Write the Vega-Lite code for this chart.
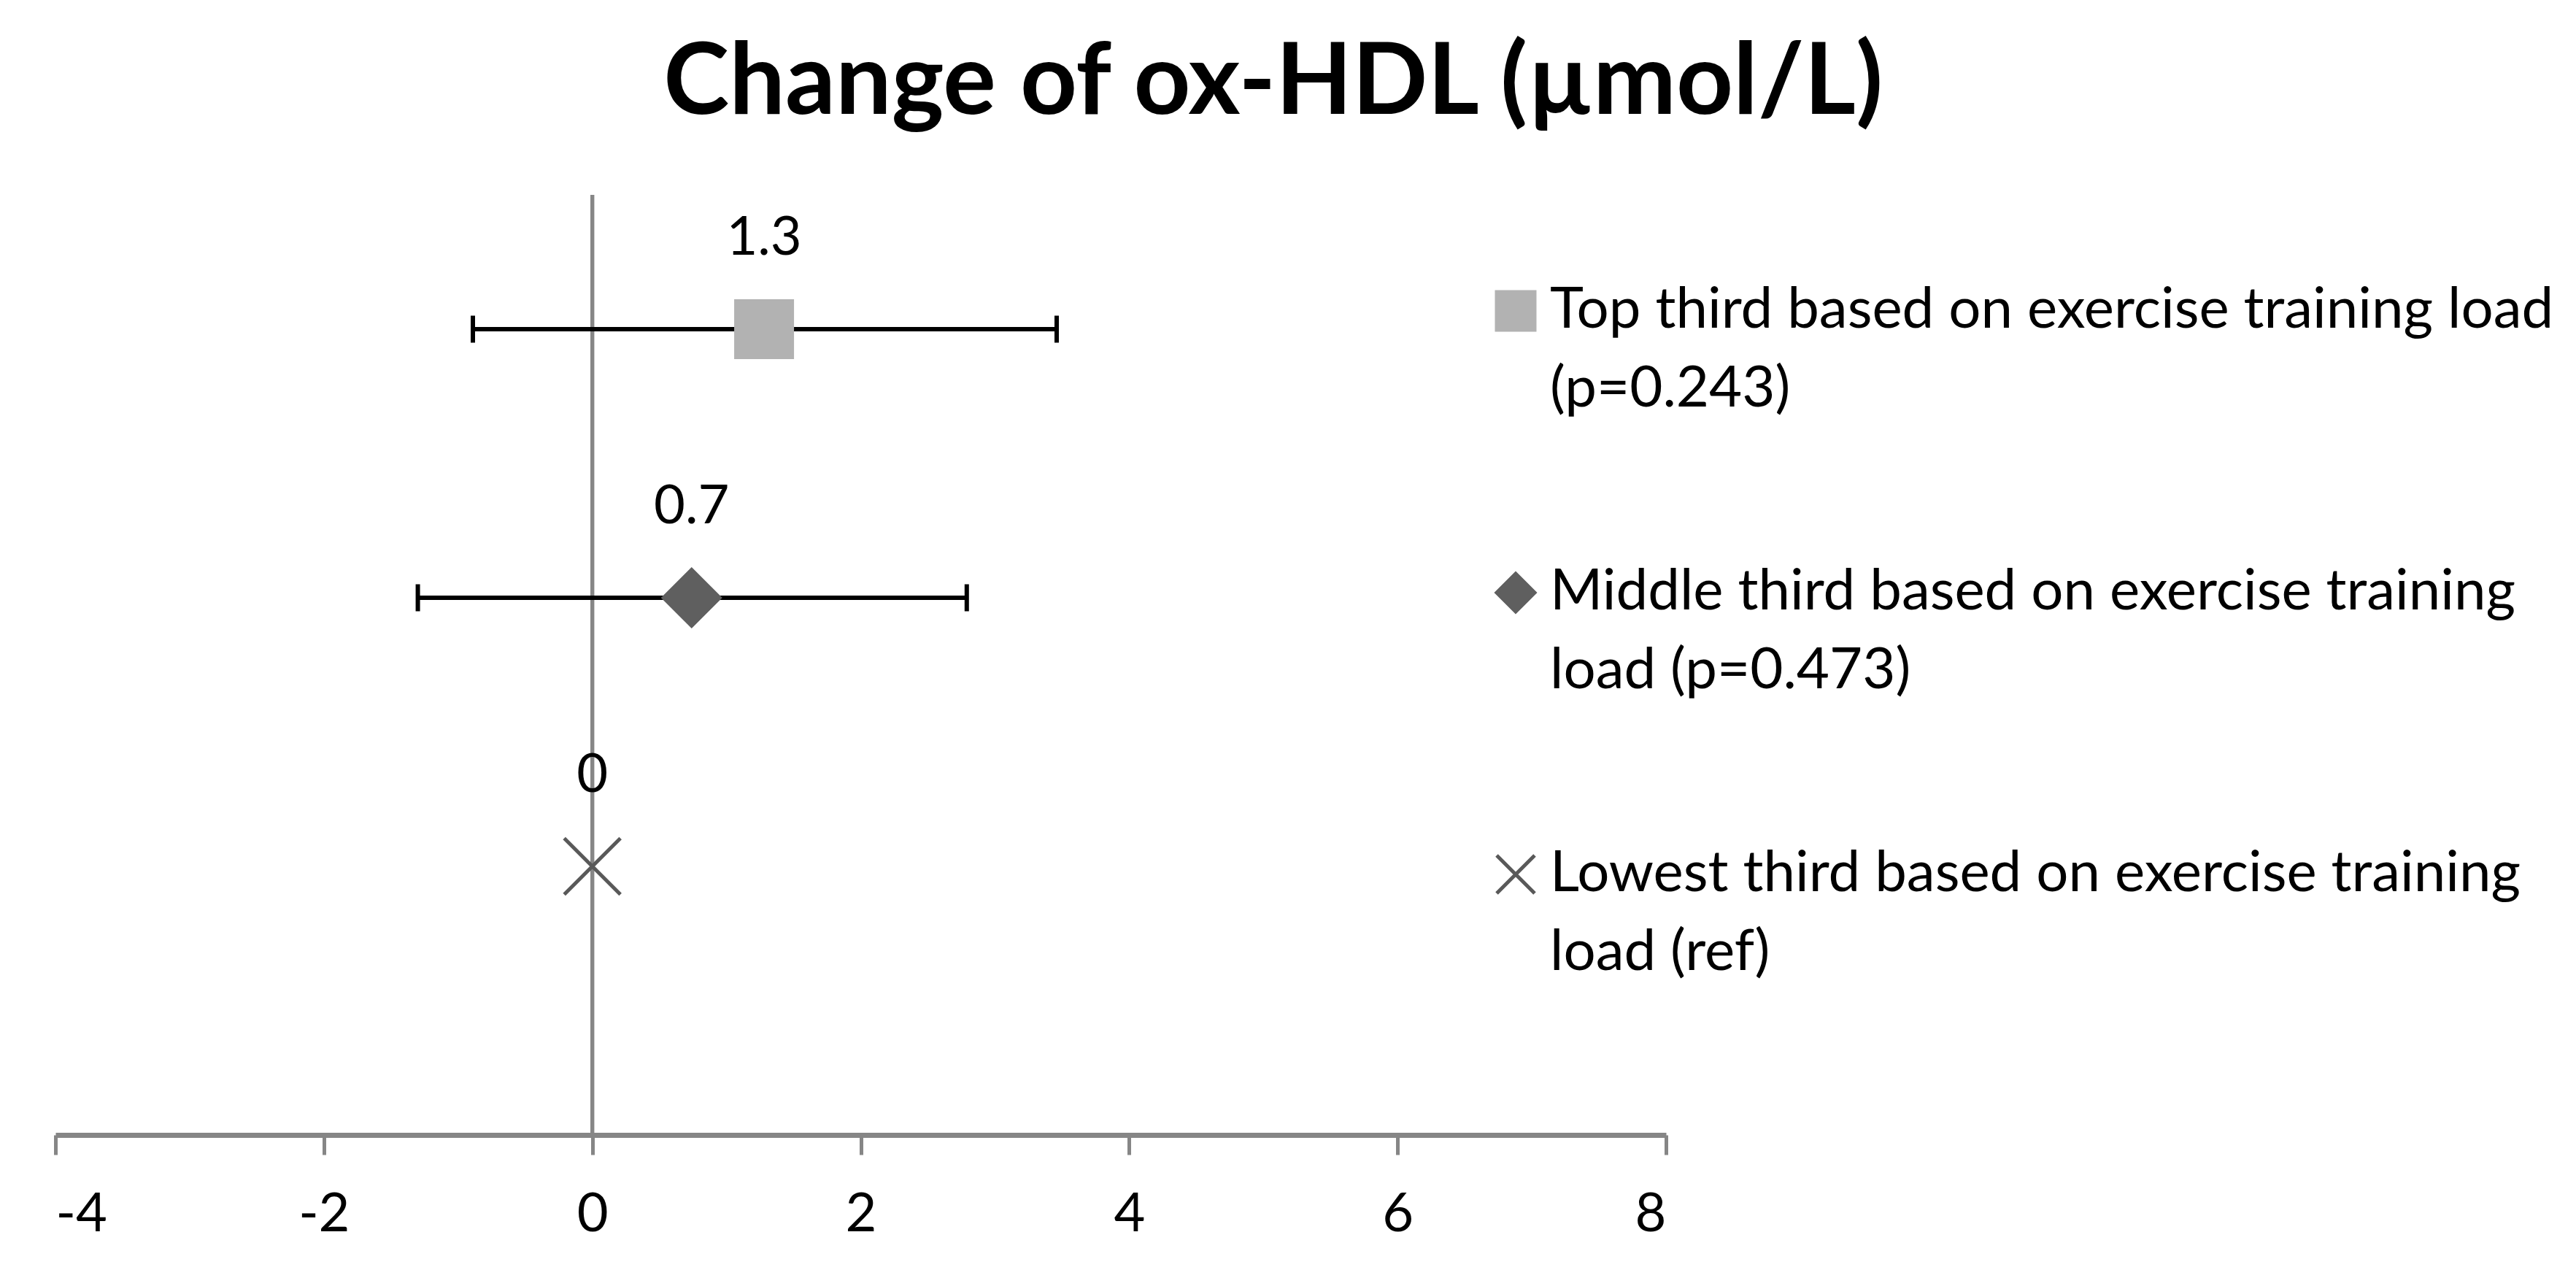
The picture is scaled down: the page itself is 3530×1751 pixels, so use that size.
{
  "$schema": "https://vega.github.io/schema/vega-lite/v6.json",
  "width": 2207,
  "height": 1288,
  "autosize": {"type": "none"},
  "padding": {"left": 76, "top": 267, "right": 1247, "bottom": 196},
  "background": "white",
  "title": {
    "text": "Change of ox-HDL (µmol/L)",
    "font": "Lato",
    "fontWeight": "bold",
    "fontSize": 136,
    "color": "black",
    "anchor": "middle",
    "frame": "bounds",
    "offset": 80,
    "dx": -42
  },
  "data": {
    "values": [
      {"group": "Top third based on exercise training load|(p=0.243)", "value": 1.28, "lo": -0.89, "hi": 3.46, "row": 3, "label": "1.3"},
      {"group": "Middle third based on exercise training|load (p=0.473)", "value": 0.74, "lo": -1.3, "hi": 2.79, "row": 2, "label": "0.7"},
      {"group": "Lowest third based on exercise training|load (ref)", "value": 0, "lo": null, "hi": null, "row": 1, "label": "0"}
    ]
  },
  "encoding": {
    "y": {"field": "row", "type": "quantitative", "scale": {"domain": [0, 3.5], "nice": false, "zero": false}, "axis": null},
    "x": {"type": "quantitative", "scale": {"domain": [-4, 8], "nice": false, "zero": false},
      "axis": {"values": [-4, -2, 0, 2, 4, 6, 8], "title": null, "grid": false, "domainColor": "#868686", "domainWidth": 7, "tickColor": "#868686", "tickWidth": 5, "tickSize": 27, "labelColor": "black", "labelFont": "Lato", "labelFontSize": 74, "labelPadding": 46, "labelExpr": "'' + datum.value"}
    }
  },
  "layer": [
    {
      "mark": {"type": "rule", "color": "#868686", "strokeWidth": 5},
      "encoding": {
        "x": {"datum": 0, "type": "quantitative"},
        "y": null
      }
    },
    {
      "transform": [{"filter": "datum.lo != null"}],
      "mark": {"type": "rule", "color": "black", "strokeWidth": 6},
      "encoding": {
        "x": {"field": "lo", "type": "quantitative"},
        "x2": {"field": "hi"}
      }
    },
    {
      "transform": [{"filter": "datum.lo != null"}],
      "mark": {"type": "tick", "orient": "vertical", "color": "black", "size": 37, "thickness": 6, "opacity": 1},
      "encoding": {"x": {"field": "lo", "type": "quantitative"}}
    },
    {
      "transform": [{"filter": "datum.hi != null"}],
      "mark": {"type": "tick", "orient": "vertical", "color": "black", "size": 37, "thickness": 6, "opacity": 1},
      "encoding": {"x": {"field": "hi", "type": "quantitative"}}
    },
    {
      "mark": {"type": "point", "size": 5929, "strokeWidth": 5, "opacity": 1, "fillOpacity": 1, "strokeOpacity": 1},
      "encoding": {
        "x": {"field": "value", "type": "quantitative"},
        "shape": {
          "field": "group", "type": "nominal", "sort": null,
          "scale": {"range": ["square", "diamond", "M-1,-1L1,1M-1,1L1,-1"]},
          "legend": {"orient": "none", "legendX": 1962, "legendY": 120, "title": null, "labelExpr": "split(datum.label, '|')", "encode": {"labels": {"update": {"lineHeight": {"value": 108}}}}}
        },
        "fill": {
          "field": "group", "type": "nominal", "sort": null,
          "scale": {"range": ["#b2b2b2", "#5f5f5f", "#595959"]},
          "legend": {"orient": "none", "legendX": 1962, "legendY": 120, "title": null, "labelExpr": "split(datum.label, '|')", "encode": {"labels": {"update": {"lineHeight": {"value": 108}}}}}
        },
        "stroke": {
          "field": "group", "type": "nominal", "sort": null,
          "scale": {"range": ["#b2b2b2", "#5f5f5f", "#595959"]},
          "legend": {"orient": "none", "legendX": 1962, "legendY": 120, "title": null, "labelExpr": "split(datum.label, '|')", "encode": {"labels": {"update": {"lineHeight": {"value": 108}}}}}
        }
      }
    },
    {
      "mark": {"type": "text", "dy": -124, "font": "Lato", "fontSize": 74, "color": "black"},
      "encoding": {
        "x": {"field": "value", "type": "quantitative"},
        "text": {"field": "label"}
      }
    }
  ],
  "config": {
    "view": {"stroke": null},
    "legend": {
      "padding": 0,
      "labelFont": "Lato",
      "labelFontSize": 78,
      "labelColor": "black",
      "labelLimit": 2000,
      "labelOffset": 8,
      "symbolSize": 2704,
      "symbolStrokeWidth": 5,
      "rowPadding": 200,
      "symbolOpacity": 1
    }
  }
}
